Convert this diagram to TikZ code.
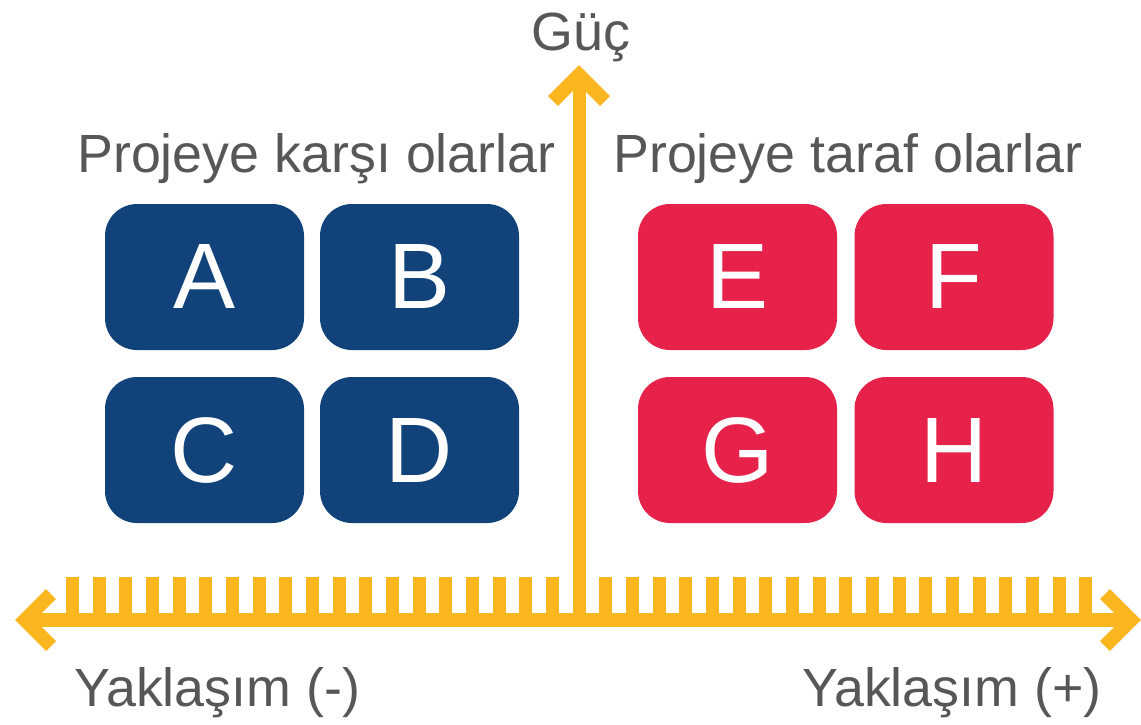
\documentclass[tikz,border=0pt]{standalone}
\usepackage{fontspec}
\setmainfont{Liberation Sans}
\definecolor{axisyellow}{HTML}{F9B61F}
\definecolor{boxblue}{HTML}{11437A}
\definecolor{boxred}{HTML}{E6224B}
\definecolor{textgray}{HTML}{555759}
\begin{document}
\begin{tikzpicture}[x=1pt,y=-1pt,
  cell/.style={rectangle,rounded corners=32pt,minimum width=199pt,minimum height=146pt,inner sep=0pt,text=white,font=\fontsize{93}{100}\selectfont},
  bluecell/.style={cell,fill=boxblue},
  redcell/.style={cell,fill=boxred},
  lbl/.style={text=textgray,font=\fontsize{53.8}{60}\selectfont,inner sep=0pt},
  axisline/.style={draw=axisyellow,line width=14pt},
  chevron/.style={draw=axisyellow,line width=14pt,line join=miter,miter limit=10},
  tick/.style={fill=axisyellow}]
\useasboundingbox (0,0) rectangle (1141,724);
% boxes
\node[bluecell] (A) at (204.5,277) {A};
\node[bluecell] (B) at (419.5,277) {B};
\node[bluecell] (C) at (204.5,450) {C};
\node[bluecell] (D) at (419.5,450) {D};
\node[redcell] (E) at (737.5,277) {E};
\node[redcell] (F) at (954,277) {F};
\node[redcell] (G) at (737.5,450) {G};
\node[redcell] (H) at (954,450) {H};
% labels
\node[lbl,anchor=base west] (against) at (77,172) {Projeye karşı olarlar};
\node[lbl,anchor=base west] (for) at (613,172) {Projeye taraf olarlar};
\node[lbl,anchor=base] (guc) at (581,50) {Güç};
\node[lbl,anchor=base west] (yneg) at (74,706) {Yaklaşım (-)};
\node[lbl,anchor=base west] (ypos) at (802,706) {Yaklaşım (+)};
% ticks
\foreach \k in {0,...,38}{
  \ifnum\k=19\else
    \fill[tick] ({72.5+26.667*\k-6.5},577) rectangle ({72.5+26.667*\k+6.5},620);
  \fi
}
% axes
\coordinate (left) at (22,620);
\coordinate (right) at (1134,620);
\coordinate (origin) at (579,620);
\coordinate (top) at (579,73);
\draw[axisline] (left) -- (right);
\draw[axisline,line width=13pt] (origin) -- (top);
\draw[chevron] (51,594) -- (25,620) -- (51,646);
\draw[chevron] (1105,594) -- (1131,620) -- (1105,646);
\draw[chevron] (553,101) -- (579,75) -- (605,101);
\end{tikzpicture}
\end{document}
